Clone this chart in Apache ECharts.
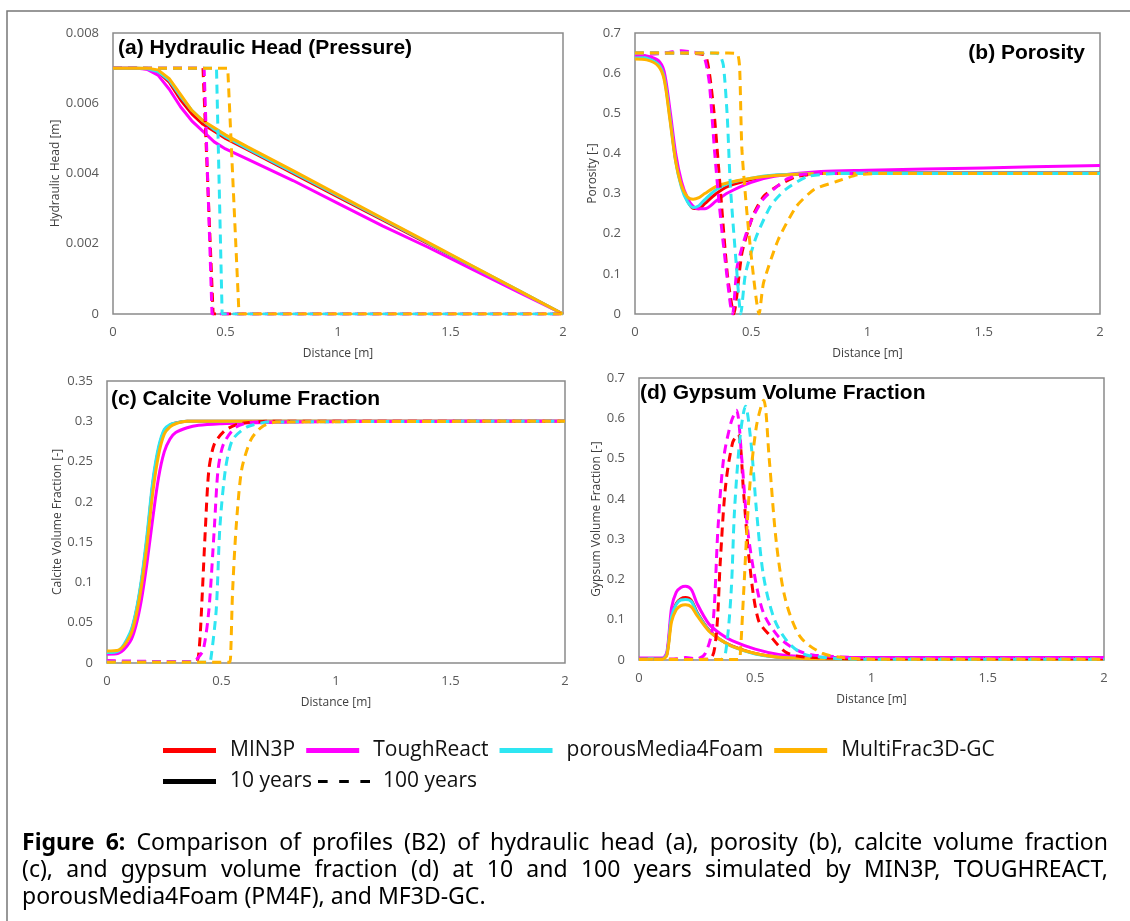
<!DOCTYPE html>
<html>
<head>
<meta charset="utf-8">
<script src="https://cdn.jsdelivr.net/npm/echarts@6/dist/echarts.min.js"></script>
<style>
html,body{margin:0;padding:0;background:#fff;}
#chart{width:1130px;height:921px;}
</style>
</head>
<body>
<div id="chart"></div>
<script>
// ---------- DATA ----------
var models = ['MIN3P', 'ToughReact', 'porousMedia4Foam', 'MultiFrac3D-GC'];
var xTicks = [0, 0.5, 1, 1.5, 2];

// (a) Hydraulic head, 10 years
var xA = [0, 0.1, 0.15, 0.2, 0.25, 0.3, 0.35, 0.4, 0.45, 0.5, 0.6, 0.8, 1.0, 1.2, 1.4, 1.6, 1.8, 2.0];
var headMIN3P = [0.0070, 0.0070, 0.00698, 0.0069, 0.0066, 0.0061, 0.0057, 0.0054, 0.0052, 0.0050, 0.00467, 0.0040, 0.00333, 0.00267, 0.0020, 0.00133, 0.00067, 0];
var headTR    = [0.0070, 0.0070, 0.00697, 0.0068, 0.0064, 0.0059, 0.0055, 0.0052, 0.0049, 0.0047, 0.0044, 0.0038, 0.00315, 0.0025, 0.0019, 0.00126, 0.00063, 0];
var headPM4F  = [0.0070, 0.0070, 0.00699, 0.0069, 0.00665, 0.0062, 0.0058, 0.0055, 0.00525, 0.00505, 0.0047, 0.00404, 0.00337, 0.0027, 0.00202, 0.00135, 0.00068, 0];
var headMF3D  = [0.0070, 0.0070, 0.0070, 0.00695, 0.0067, 0.00625, 0.0058, 0.0055, 0.0053, 0.0051, 0.00475, 0.00408, 0.0034, 0.00272, 0.00204, 0.00136, 0.00068, 0];
// (a) Hydraulic head, 100 years
var head100MIN3Px = [0, 0.40, 0.445, 2]; var head100MIN3P = [0.007, 0.007, 0, 0];
var head100TRx    = [0, 0.405, 0.44, 2]; var head100TR    = [0.007, 0.007, 0, 0];
var head100PM4Fx  = [0, 0.46, 0.485, 2]; var head100PM4F  = [0.007, 0.007, 0, 0];
var head100MF3Dx  = [0, 0.51, 0.56, 2];  var head100MF3D  = [0.007, 0.007, 0, 0];

// (b) Porosity, 10 years
var xB = [0, 0.05, 0.1, 0.125, 0.15, 0.175, 0.2, 0.225, 0.25, 0.275, 0.3, 0.35, 0.4, 0.5, 0.6, 0.8, 1.0, 1.5, 2.0];
var porMIN3P = [0.64, 0.638, 0.625, 0.595, 0.495, 0.385, 0.32, 0.283, 0.263, 0.262, 0.275, 0.30, 0.318, 0.335, 0.345, 0.35, 0.352, 0.352, 0.352];
var porTR    = [0.645, 0.643, 0.632, 0.605, 0.51, 0.40, 0.33, 0.29, 0.268, 0.262, 0.262, 0.282, 0.302, 0.328, 0.343, 0.355, 0.358, 0.364, 0.37];
var porPM4F  = [0.64, 0.637, 0.622, 0.59, 0.49, 0.38, 0.315, 0.28, 0.265, 0.27, 0.285, 0.31, 0.325, 0.338, 0.346, 0.35, 0.351, 0.351, 0.351];
var porMF3D  = [0.635, 0.633, 0.618, 0.585, 0.485, 0.38, 0.32, 0.292, 0.286, 0.29, 0.30, 0.318, 0.327, 0.338, 0.345, 0.35, 0.35, 0.35, 0.35];
// (b) Porosity, 100 years
var por100MIN3Px = [0, 0.1, 0.2, 0.3, 0.32, 0.342, 0.366, 0.397, 0.425, 0.46, 0.506, 0.553, 0.616, 0.694, 0.8, 1.0, 2.0];
var por100MIN3P  = [0.65, 0.65, 0.65, 0.645, 0.60, 0.49, 0.318, 0.10, 0.0, 0.152, 0.243, 0.293, 0.32, 0.342, 0.35, 0.35, 0.35];
var por100TRx = [0, 0.1, 0.15, 0.2, 0.25, 0.29, 0.307, 0.32, 0.343, 0.358, 0.375, 0.41, 0.42, 0.44, 0.49, 0.55, 0.647, 0.71, 0.8, 1.0, 2.0];
var por100TR  = [0.645, 0.648, 0.652, 0.656, 0.652, 0.65, 0.62, 0.574, 0.40, 0.30, 0.20, 0.024, 0.0, 0.12, 0.22, 0.285, 0.334, 0.347, 0.35, 0.35, 0.35];
var por100PM4Fx = [0, 0.2, 0.3, 0.36, 0.38, 0.397, 0.41, 0.436, 0.455, 0.475, 0.52, 0.584, 0.647, 0.74, 0.866, 1.0, 2.0];
var por100PM4F  = [0.65, 0.65, 0.65, 0.648, 0.62, 0.49, 0.32, 0.12, 0, 0.10, 0.19, 0.27, 0.31, 0.342, 0.35, 0.35, 0.35];
var por100MF3Dx = [0, 0.2, 0.4, 0.44, 0.45, 0.46, 0.49, 0.534, 0.553, 0.616, 0.694, 0.77, 0.866, 0.96, 1.08, 2.0];
var por100MF3D  = [0.65, 0.65, 0.65, 0.648, 0.615, 0.408, 0.2, 0.0, 0.078, 0.185, 0.268, 0.31, 0.33, 0.347, 0.35, 0.35];

// (c) Calcite volume fraction, 10 years
var xC = [0, 0.05, 0.1, 0.125, 0.15, 0.175, 0.2, 0.225, 0.25, 0.275, 0.3, 0.35, 0.4, 0.5, 0.6, 0.8, 1.0, 2.0];
var calMIN3P = [0.012, 0.014, 0.035, 0.06, 0.10, 0.155, 0.222, 0.265, 0.288, 0.295, 0.298, 0.30, 0.30, 0.30, 0.30, 0.30, 0.30, 0.30];
var calTR    = [0.011, 0.012, 0.026, 0.045, 0.078, 0.125, 0.18, 0.23, 0.262, 0.278, 0.286, 0.292, 0.295, 0.297, 0.298, 0.299, 0.30, 0.30];
var calPM4F  = [0.013, 0.015, 0.037, 0.062, 0.103, 0.16, 0.226, 0.268, 0.29, 0.296, 0.298, 0.30, 0.30, 0.30, 0.30, 0.30, 0.30, 0.30];
var calMF3D  = [0.015, 0.016, 0.033, 0.056, 0.095, 0.148, 0.212, 0.258, 0.284, 0.293, 0.297, 0.30, 0.30, 0.30, 0.30, 0.30, 0.30, 0.30];
// (c) Calcite volume fraction, 100 years
var cal100MIN3Px = [0, 0.2, 0.39, 0.40, 0.409, 0.43, 0.445, 0.469, 0.517, 0.58, 0.7, 2];
var cal100MIN3P  = [0.002, 0.002, 0.002, 0.01, 0.045, 0.169, 0.24, 0.272, 0.289, 0.297, 0.30, 0.30];
var cal100TRx = [0, 0.2, 0.38, 0.39, 0.42, 0.445, 0.469, 0.485, 0.509, 0.564, 0.644, 2];
var cal100TR  = [0.003, 0.002, 0.002, 0.004, 0.016, 0.066, 0.169, 0.24, 0.272, 0.293, 0.299, 0.30];
var cal100PM4Fx = [0, 0.2, 0.445, 0.453, 0.477, 0.493, 0.517, 0.548, 0.612, 0.707, 2];
var cal100PM4F  = [0.001, 0.001, 0.001, 0.004, 0.066, 0.169, 0.24, 0.277, 0.293, 0.299, 0.30];
var cal100MF3Dx = [0, 0.2, 0.535, 0.54, 0.548, 0.564, 0.588, 0.628, 0.676, 0.74, 2];
var cal100MF3D  = [0.001, 0.001, 0.001, 0.01, 0.086, 0.169, 0.24, 0.277, 0.293, 0.299, 0.30];

// (d) Gypsum volume fraction, 10 years
var xD = [0, 0.1, 0.12, 0.14, 0.16, 0.18, 0.2, 0.225, 0.25, 0.3, 0.35, 0.4, 0.5, 0.6, 0.7, 0.8, 1.0, 1.5, 2.0];
var gypMIN3P = [0.003, 0.003, 0.015, 0.11, 0.14, 0.152, 0.155, 0.148, 0.118, 0.075, 0.05, 0.035, 0.016, 0.007, 0.004, 0.003, 0.002, 0.002, 0.002];
var gypTR    = [0.005, 0.005, 0.02, 0.13, 0.168, 0.18, 0.183, 0.175, 0.14, 0.09, 0.065, 0.048, 0.027, 0.014, 0.009, 0.007, 0.006, 0.006, 0.006];
var gypPM4F  = [0.003, 0.003, 0.015, 0.108, 0.138, 0.149, 0.15, 0.145, 0.116, 0.074, 0.05, 0.034, 0.015, 0.007, 0.004, 0.003, 0.002, 0.002, 0.002];
var gypMF3D  = [0.002, 0.002, 0.012, 0.095, 0.125, 0.135, 0.137, 0.132, 0.11, 0.072, 0.05, 0.034, 0.016, 0.007, 0.004, 0.003, 0.002, 0.002, 0.002];
// (d) Gypsum volume fraction, 100 years
var gyp100MIN3Px = [0, 0.3, 0.33, 0.35, 0.372, 0.403, 0.427, 0.45, 0.474, 0.513, 0.567, 0.63, 0.7, 1, 2];
var gyp100MIN3P  = [0.002, 0.002, 0.05, 0.248, 0.43, 0.54, 0.56, 0.414, 0.248, 0.10, 0.058, 0.02, 0.008, 0.003, 0.003];
var gyp100TRx = [0, 0.15, 0.2, 0.25, 0.286, 0.317, 0.34, 0.364, 0.396, 0.419, 0.442, 0.466, 0.497, 0.536, 0.6, 0.677, 0.755, 1, 2];
var gyp100TR  = [0.002, 0.002, 0.006, 0.003, 0.017, 0.083, 0.33, 0.50, 0.59, 0.62, 0.50, 0.33, 0.21, 0.116, 0.058, 0.025, 0.012, 0.006, 0.006];
var gyp100PM4Fx = [0, 0.35, 0.372, 0.396, 0.411, 0.435, 0.458, 0.482, 0.505, 0.536, 0.583, 0.646, 0.724, 1, 2];
var gyp100PM4F  = [0.001, 0.001, 0.017, 0.166, 0.373, 0.555, 0.63, 0.538, 0.373, 0.207, 0.10, 0.041, 0.012, 0.002, 0.002];
var gyp100MF3Dx = [0, 0.43, 0.435, 0.45, 0.474, 0.505, 0.536, 0.56, 0.591, 0.63, 0.693, 0.787, 0.88, 1, 2];
var gyp100MF3D  = [0.001, 0.001, 0.008, 0.166, 0.414, 0.58, 0.645, 0.50, 0.29, 0.15, 0.058, 0.017, 0.006, 0.002, 0.002];

// caption lines (first two justified)
var captionLines = [
  'Figure 6: Comparison of profiles (B2) of hydraulic head (a), porosity (b), calcite volume fraction',
  '(c), and gypsum volume fraction (d) at 10 and 100 years simulated by MIN3P, TOUGHREACT,',
  'porousMedia4Foam (PM4F), and MF3D-GC.'
];

// ---------- STYLE ----------
var colors = { 'MIN3P': '#ff0000', 'ToughReact': '#ff00ff', 'porousMedia4Foam': '#2ee6f2', 'MultiFrac3D-GC': '#ffb300' };
var tickFont = 'Open Sans';
function pairs(xs, ys) { return xs.map(function (x, i) { return [x, ys[i]]; }); }

var panels = [
  { solid: [[xA, headMIN3P], [xA, headTR], [xA, headPM4F], [xA, headMF3D]],
    dashed: [[head100MIN3Px, head100MIN3P], [head100TRx, head100TR], [head100PM4Fx, head100PM4F], [head100MF3Dx, head100MF3D]],
    smooth: false, dsmooth: false },
  { solid: [[xB, porMIN3P], [xB, porTR], [xB, porPM4F], [xB, porMF3D]],
    dashed: [[por100MIN3Px, por100MIN3P], [por100TRx, por100TR], [por100PM4Fx, por100PM4F], [por100MF3Dx, por100MF3D]],
    smooth: 0.3, dsmooth: 0.2 },
  { solid: [[xC, calMIN3P], [xC, calTR], [xC, calPM4F], [xC, calMF3D]],
    dashed: [[cal100MIN3Px, cal100MIN3P], [cal100TRx, cal100TR], [cal100PM4Fx, cal100PM4F], [cal100MF3Dx, cal100MF3D]],
    smooth: 0.3, dsmooth: 0.25 },
  { solid: [[xD, gypMIN3P], [xD, gypTR], [xD, gypPM4F], [xD, gypMF3D]],
    dashed: [[gyp100MIN3Px, gyp100MIN3P], [gyp100TRx, gyp100TR], [gyp100PM4Fx, gyp100PM4F], [gyp100MF3Dx, gyp100MF3D]],
    smooth: 0.3, dsmooth: 0.3 }
];

var grids = [
  { left: 113, top: 33, width: 450, height: 281 },
  { left: 635, top: 33, width: 465, height: 281 },
  { left: 107, top: 381, width: 458, height: 282 },
  { left: 639, top: 378, width: 465, height: 282 }
];
var yMax = [0.008, 0.7, 0.35, 0.7];
var yStep = [0.002, 0.1, 0.05, 0.1];
var yNames = ['Hydraulic Head [m]', 'Porosity [-]', 'Calcite Volume Fraction [-]', 'Gypsum Volume Fraction [-]'];
var yNameGap = [49, 35, 42, 35];

var series = [];
panels.forEach(function (p, gi) {
  p.solid.forEach(function (d, mi) {
    series.push({ type: 'line', name: models[mi], xAxisIndex: gi, yAxisIndex: gi,
      data: pairs(d[0], d[1]), showSymbol: false, smooth: p.smooth, color: colors[models[mi]],
      lineStyle: { width: 3, color: colors[models[mi]] }, z: 3 });
  });
});
panels.forEach(function (p, gi) {
  p.dashed.forEach(function (d, mi) {
    series.push({ type: 'line', name: models[mi], xAxisIndex: gi, yAxisIndex: gi,
      data: pairs(d[0], d[1]), showSymbol: false, smooth: p.dsmooth, color: colors[models[mi]],
      lineStyle: { width: 3, type: [9, 6], color: colors[models[mi]] }, z: 4 });
  });
});
series.push({ type: 'line', name: '10 years', xAxisIndex: 0, yAxisIndex: 0, data: [], color: '#000', lineStyle: { width: 3 } });
series.push({ type: 'line', name: '100 years', xAxisIndex: 0, yAxisIndex: 0, data: [], color: '#000', lineStyle: { width: 3, type: 'dashed' } });

var xAxes = grids.map(function (g, i) {
  return { type: 'value', gridIndex: i, min: 0, max: 2, interval: 0.5,
    name: 'Distance [m]', nameLocation: 'middle', nameGap: 34,
    nameTextStyle: { fontFamily: tickFont, fontSize: 12, color: '#404040' },
    axisLine: { show: false }, axisTick: { show: false }, splitLine: { show: false },
    axisLabel: { fontFamily: tickFont, fontSize: 13, color: '#595959', margin: 12 } };
});
var yAxes = grids.map(function (g, i) {
  return { type: 'value', gridIndex: i, min: 0, max: yMax[i], interval: yStep[i],
    name: yNames[i], nameLocation: 'middle', nameGap: yNameGap[i],
    nameTextStyle: { fontFamily: tickFont, fontSize: 12, color: '#404040' },
    axisLine: { show: false }, axisTick: { show: false }, splitLine: { show: false },
    axisLabel: { fontFamily: tickFont, fontSize: 13, color: '#595959', margin: 14 } };
});

// ---------- caption (justified like the source) ----------
var capSize = 23, capLeft = 22, capRight = 1108, capY = [843, 870, 897];
var measureCtx = document.createElement('canvas').getContext('2d');
function wordWidth(w, bold) {
  measureCtx.font = (bold ? 'bold ' : '') + capSize + 'px "Noto Sans"';
  return measureCtx.measureText(w).width;
}
var captionGraphics = [];
captionLines.forEach(function (line, li) {
  var words = line.split(' ');
  var bolds = words.map(function (w, wi) { return li === 0 && wi < 2; });
  var widths = words.map(function (w, wi) { return wordWidth(w, bolds[wi]); });
  var total = widths.reduce(function (a, b) { return a + b; }, 0);
  var spaceW = wordWidth(' ', false);
  var gap = (li < captionLines.length - 1) ? (capRight - capLeft - total) / (words.length - 1) : spaceW;
  var x = capLeft;
  words.forEach(function (w, wi) {
    captionGraphics.push({ type: 'text', silent: true, style: { text: w, x: x, y: capY[li], verticalAlign: 'middle',
      fontFamily: 'Noto Sans', fontSize: capSize, fontWeight: bolds[wi] ? 'bold' : 'normal', fill: '#000' } });
    x += widths[wi] + gap;
  });
});

var titleFont = 'bold 21px "Liberation Sans", Arial, sans-serif';
var legendText = { fontFamily: 'Open Sans', fontSize: 21, color: '#111', padding: [0, 0, 0, 9] };
var option = {
  animation: false,
  backgroundColor: '#fff',
  grid: grids.map(function (g) { return Object.assign({ show: true, borderColor: '#8a8a8a', borderWidth: 1.5, backgroundColor: 'transparent' }, g); }),
  xAxis: xAxes,
  yAxis: yAxes,
  legend: [
    { data: models, left: 163, top: 740, padding: 0, orient: 'horizontal', icon: 'rect', itemWidth: 53, itemHeight: 5, itemGap: 11,
      selectedMode: false, textStyle: legendText },
    { data: ['10 years'], left: 163, top: 771, padding: 0, icon: 'rect', itemWidth: 53, itemHeight: 5, selectedMode: false,
      textStyle: legendText },
    { data: [{ name: '100 years', icon: 'path://M0,0h10v3h-10zM22,0h10v3h-10zM44,0h10v3h-10z' }], left: 318, top: 771, padding: 0,
      itemWidth: 52, itemHeight: 3, selectedMode: false,
      textStyle: { fontFamily: 'Open Sans', fontSize: 21, color: '#111', padding: [0, 0, 0, 8] } }
  ],
  graphic: [
    { type: 'rect', shape: { x: 7, y: 11, width: 1200, height: 1000 }, style: { fill: 'none', stroke: '#777', lineWidth: 1.5 }, silent: true, z: 0 },
    { type: 'text', style: { text: '(a) Hydraulic Head (Pressure)', x: 118, y: 48, font: titleFont, fill: '#000', verticalAlign: 'middle' }, z: 10 },
    { type: 'text', style: { text: '(b) Porosity', x: 1085, y: 53, font: titleFont, fill: '#000', align: 'right', verticalAlign: 'middle' }, z: 10 },
    { type: 'text', style: { text: '(c) Calcite Volume Fraction', x: 111, y: 399, font: titleFont, fill: '#000', verticalAlign: 'middle' }, z: 10 },
    { type: 'text', style: { text: '(d) Gypsum Volume Fraction', x: 640, y: 393, font: titleFont, fill: '#000', verticalAlign: 'middle' }, z: 10 }
  ].concat(captionGraphics),
  series: series
};

var chart = echarts.init(document.getElementById('chart'), null, { renderer: 'canvas' });
chart.setOption(option);
</script>
</body>
</html>
